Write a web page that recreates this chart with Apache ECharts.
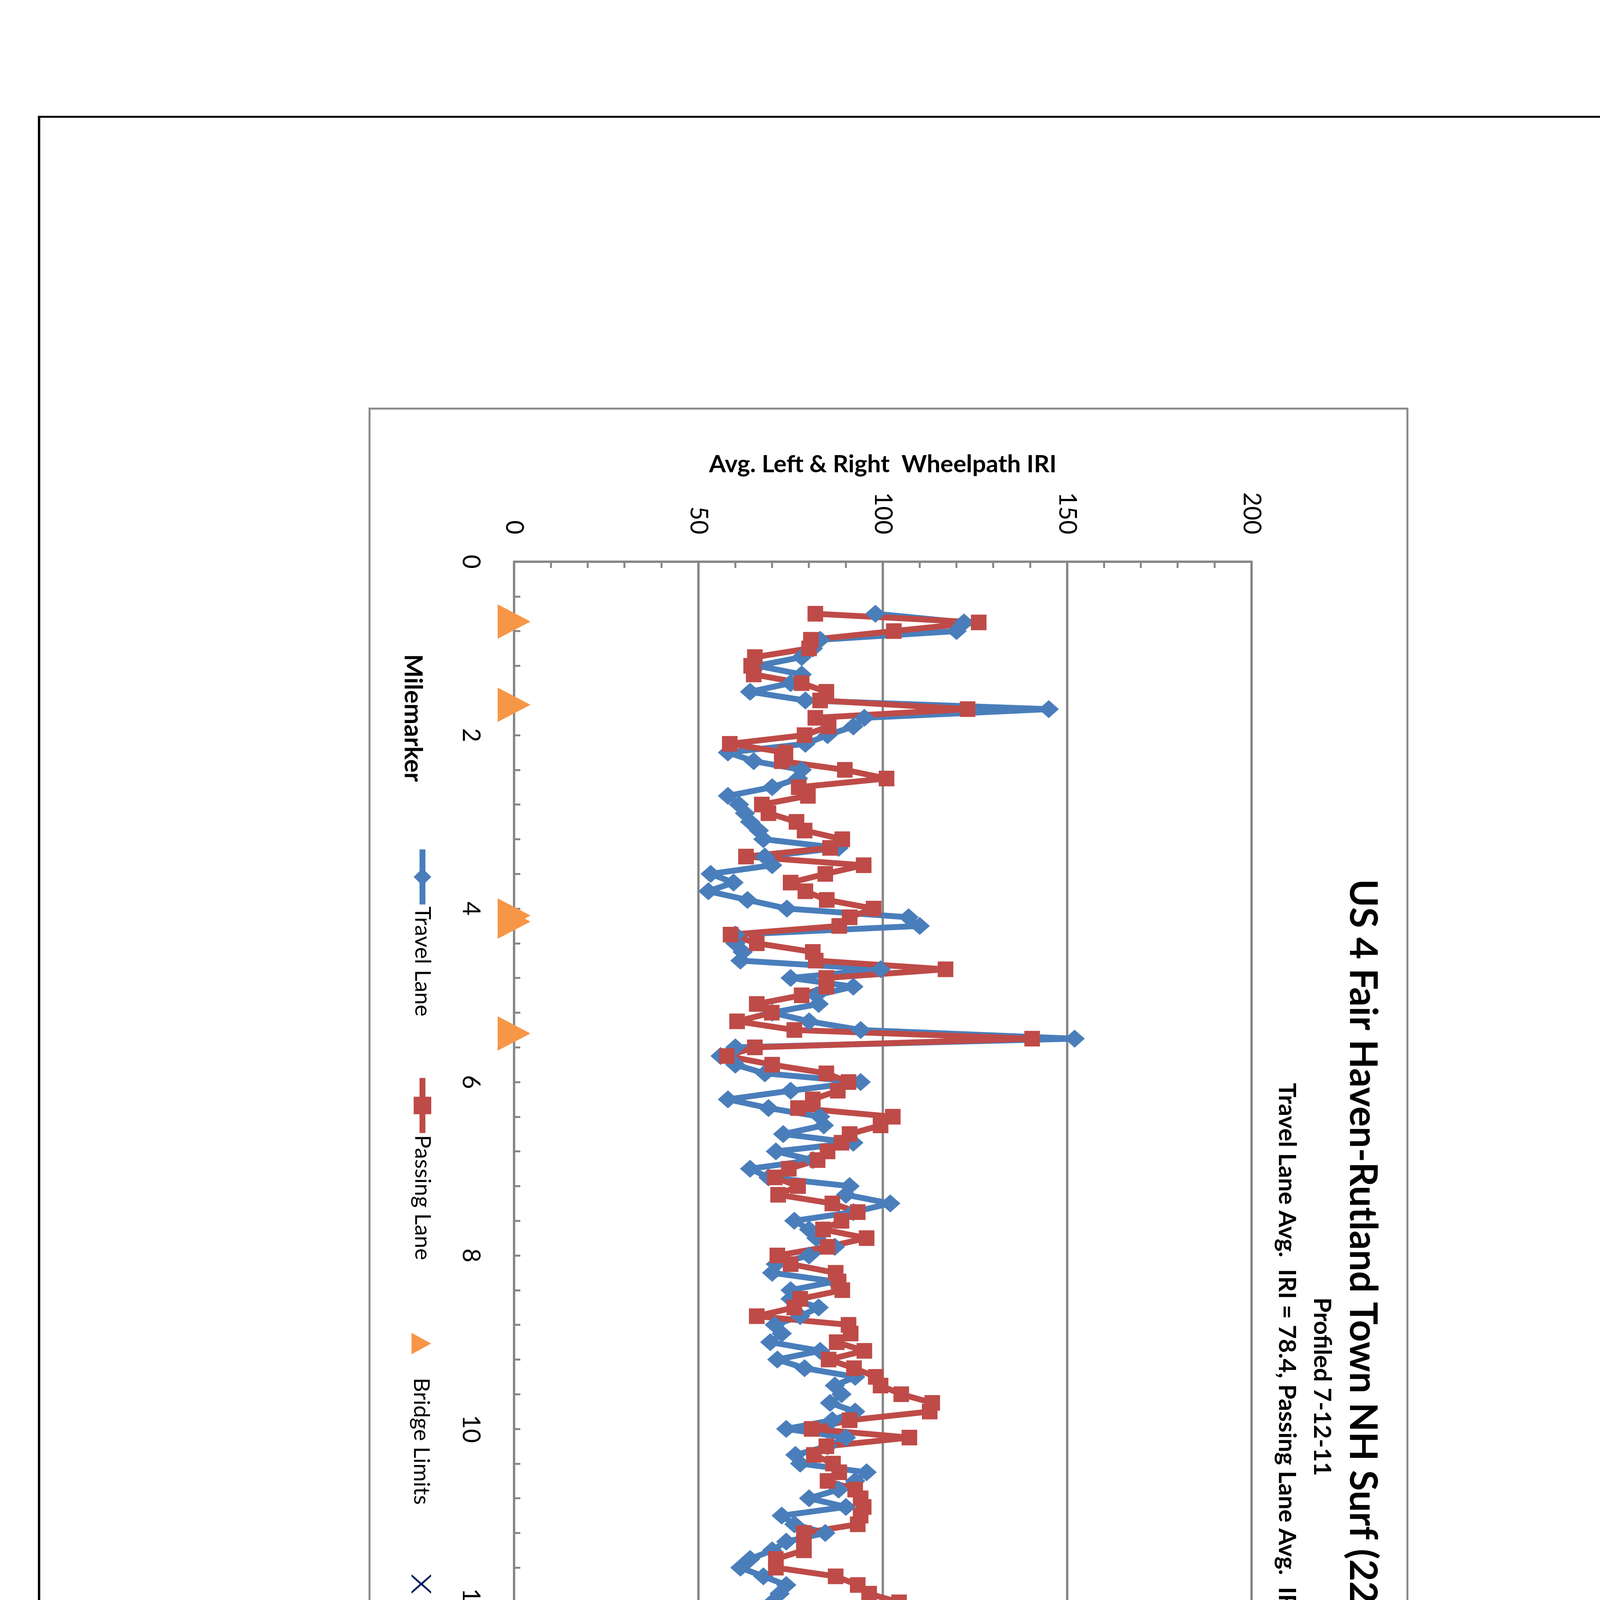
<!DOCTYPE html>
<html>
<head>
<meta charset="utf-8">
<title>US 4 Westbound Ride</title>
<script src="https://cdn.jsdelivr.net/npm/echarts@6/dist/echarts.min.js"></script>
<style>
  html, body { margin: 0; padding: 0; width: 4300px; height: 6700px; overflow: hidden; background: #fff; }
  /* the sheet is landscape, printed turned a quarter turn clockwise */
  #main { position: absolute; left: 0; top: 0; width: 6700px; height: 4300px;
          transform-origin: 0 0; transform: translate(4300px, 0) rotate(90deg); }
</style>
</head>
<body>
<div id="main"></div>
<script>
// milepost of every reading (one per 0.1 mile)
const mileposts = [
  0.6, 0.7, 0.8, 0.9, 1.0, 1.1, 1.2, 1.3, 1.4, 1.5, 1.6, 1.7, 1.8, 1.9, 2.0, 2.1, 2.2, 2.3, 2.4, 2.5, 2.6, 2.7, 2.8,
  2.9, 3.0, 3.1, 3.2, 3.3, 3.4, 3.5, 3.6, 3.7, 3.8, 3.9, 4.0, 4.1, 4.2, 4.3, 4.4, 4.5, 4.6, 4.7, 4.8, 4.9, 5.0, 5.1, 5.2, 5.3, 5.4,
  5.5, 5.6, 5.7, 5.8, 5.9, 6.0, 6.1, 6.2, 6.3, 6.4, 6.5, 6.6, 6.7, 6.8, 6.9, 7.0, 7.1, 7.2, 7.3, 7.4, 7.5, 7.6, 7.7, 7.8, 7.9, 8.0,
  8.1, 8.2, 8.3, 8.4, 8.5, 8.6, 8.7, 8.8, 8.9, 9.0, 9.1, 9.2, 9.3, 9.4, 9.5, 9.6, 9.7, 9.8, 9.9, 10.0, 10.1, 10.2, 10.3, 10.4, 10.5,
  10.6, 10.7, 10.8, 10.9, 11.0, 11.1, 11.2, 11.3, 11.4, 11.5, 11.6, 11.7, 11.8, 11.9, 12.0, 12.1, 12.2, 12.3, 12.4, 12.5, 12.6, 12.7, 12.8, 12.9, 13.0, 13.1, 13.2,
  13.3, 13.4, 13.5, 13.6, 13.7, 13.8, 13.9, 14.0, 14.1, 14.2, 14.3, 14.4, 14.5, 14.6, 14.7, 14.8, 14.9, 15.0, 15.1, 15.2, 15.3, 15.4, 15.5, 15.6, 15.7, 15.8,
  15.9, 16.0, 16.1, 16.2, 16.3, 16.4, 16.5, 16.6, 16.7, 16.8, 16.9, 17.0, 17.1, 17.2, 17.3, 17.4, 17.5, 17.6, 17.7, 17.8, 17.9, 18.0, 18.1, 18.2, 18.3, 18.4, 18.5, 18.6, 18.7, 18.8
];

// avg left & right wheelpath IRI
const travelLane = [
  98, 122, 120, 83, 81, 78, 66, 78, 75, 64, 79, 145, 95, 92, 85, 79, 58, 65, 78, 77, 70, 58, 61,
  62.6, 64, 66.4, 67.6, 88, 68, 70, 53.3, 59.5, 52.7, 63.3, 74, 107, 110, 60, 60, 62, 61.4, 99.4, 75, 92, 82, 82.6, 70, 80, 94,
  152, 60, 56, 60, 68, 94, 75, 58, 69, 83, 84, 73, 92, 71, 81, 64, 69, 91, 90, 102, 92, 76, 80, 82, 87, 80,
  71, 70, 87, 75, 75, 82.6, 77.6, 70.7, 72.6, 69.5, 83, 71.4, 78.8, 92.5, 87, 88.8, 85.7, 92.5, 86.3, 73.8, 90, 85, 76.3, 77.6, 95.6,
  92.5, 88, 80, 90, 72.6, 76, 84.4, 73.8, 70, 64, 61.4, 67.6, 73.8, 72, 70, 78.8, 66.4, 70.7, 71.4, 68.9, 78.8, 99.4, 90, 106, 183.4, 136, 118,
  100, 91, 80.7, 64.5, 68.2, 98.8, 101, 105, 88.8, 110, 91.3, 88.8, 93.2, 172.6, 78.8, 64.5, 107.5, 87, 52.7, 70, 66.4, 59.5, 48.3, 50.2, 46.5, 45,
  46.5, 50, 51.5, 53, 49.6, 45, 43, 42.6, 45.3, 47, 47.8, 49.6, 44.6, 52, 49.6, 58.3, 57, 148.6, 86, 102, 100, 61, 52, 47, 50, 124, 49, 58, 51, 86
];
const passingLane = [
  81.7, 126, 103, 80.5, 80, 65.3, 64.3, 65, 78, 84.7, 83, 123, 81.7, 85.3, 78.8, 58.5, 73.6, 72.6, 89.7, 101, 77.2, 79.7, 67.2,
  69, 76.6, 78.8, 89, 85.7, 62.9, 94.8, 84.4, 75, 79, 84.8, 97.5, 91, 88.2, 58.7, 65.8, 81, 81.8, 117, 84.7, 84.7, 78, 65.8, 69.9, 60.5, 76,
  140.5, 65.3, 57.7, 70, 84.7, 90.7, 87.8, 81, 77, 102.7, 99.4, 91, 88.8, 85, 82.3, 74.5, 70.7, 77, 71.6, 86.3, 93.2, 88.8, 83.8, 95.6, 85, 71.4,
  75, 87.2, 88, 89, 77.6, 76, 65.8, 90.7, 91.3, 87.5, 95, 85.3, 92.2, 98.1, 99.4, 105, 113.4, 112.7, 91, 80.7, 107.2, 84.7, 81.3, 86.5, 88.2,
  85, 92.5, 94, 94.8, 94, 93.2, 78.6, 78.6, 78.6, 71, 71, 87.2, 93.2, 96.3, 104.4, 87.8, 68, 68, 82, 82.5, 81.5, 72.6, 91.5, 112, 169.5, 137.4, 111.5,
  98.8, 119.7, 98.8, 90, 106.8, 117.4, 91, 85.3, 100.6, 112.5, 98.5, 92.5, 85, 139.9, 81, 64.1, 112, 99.4, 68.9, 74.1, 80.7, 65.8, 68, 79.7, 70, 74.5,
  58, 53, 52, 64, 61.4, 62, 65.8, 63.3, 74.8, 67.6, 62.4, 55.2, 60.8, 61.1, 62.9, 64, 66.4, 117, 61, 108.7, 113.7, 66.4, 62, 53.3, 57.7, 144.2, 58.7, 71.4, 54.8, 121.2
];

// event markers, drawn on the zero line
const bridgeMiles = [0.69, 1.65, 4.08, 4.15, 5.44, 12.93, 13.07, 14.59, 14.85, 17.56, 17.84];
const railroadMiles = [18.36];
const laneChangeMiles = [12.87, 13.35];

const chartTitle = 'US 4 Fair Haven-Rutland Town NH Surf (22)Westbound Ride';
const chartSubtitle = 'Profiled 7-12-11\nTravel Lane Avg.  IRI = 78.4, Passing Lane Avg.  IRI = 84.6';

const FONT = 'Lato, "Open Sans", sans-serif';
const CAD = '"DejaVu Sans Condensed", "DejaVu Sans", sans-serif';
const GRID_GREY = '#878787';

const toPoints = (xs, ys) => xs.map((x, i) => [x, ys[i]]);
const onZero = xs => xs.map(x => [x, 0]);

var myChart = echarts.init(document.getElementById('main'), null, { renderer: 'canvas' });

function blockText(x, y, text, size, weight, align) {
  return {
    type: 'text', x: x, y: y, silent: true,
    style: { text: text, fontFamily: CAD, fontSize: size, fontWeight: weight || 'normal',
             fill: '#000', align: align || 'left', verticalAlign: 'middle' }
  };
}
function rule(x1, y1, x2, y2, w) {
  return { type: 'line', silent: true, shape: { x1: x1, y1: y1, x2: x2, y2: y2 },
           style: { stroke: '#000', lineWidth: w || 5 } };
}

const legendBase = {
  padding: 0, selectedMode: false,
  lineStyle: { width: 15 },
  textStyle: { fontFamily: FONT, fontSize: 57, color: '#000' }
};
const markerLegendText = { fontFamily: FONT, fontSize: 57, color: '#000', padding: [0, 0, 0, 55] };

myChart.setOption({
  animation: false,
  backgroundColor: '#fff',
  title: {
    text: chartTitle,
    subtext: chartSubtitle,
    left: 3550, top: 758, textAlign: 'center', padding: 0, itemGap: 3,
    textStyle: { fontFamily: FONT, fontWeight: 'bold', fontSize: 97, lineHeight: 110, color: '#000' },
    subtextStyle: { fontFamily: FONT, fontWeight: 'bold', fontSize: 62, lineHeight: 90, color: '#000' }
  },
  legend: [
    Object.assign({}, legendBase, { data: ['Travel Lane'], left: 2167, top: 3190, itemWidth: 141, itemHeight: 56 }),
    Object.assign({}, legendBase, { data: ['Passing Lane'], left: 2752, top: 3190, itemWidth: 141, itemHeight: 56 }),
    Object.assign({}, legendBase, { data: ['Bridge Limits'], left: 3412, top: 3193, itemWidth: 55, itemHeight: 50, textStyle: markerLegendText }),
    Object.assign({}, legendBase, { data: ['Railroad crossing'], left: 4030, top: 3193, itemWidth: 55, itemHeight: 50, textStyle: markerLegendText }),
    Object.assign({}, legendBase, { data: ['Lane Change Travel Lane'], left: 4771, top: 3193, itemWidth: 55, itemHeight: 50, textStyle: markerLegendText })
  ],
  grid: { left: 1438, top: 1096, width: 4440, height: 1888, containLabel: false },
  xAxis: {
    type: 'value', min: 0, max: 20, interval: 2,
    axisLine: { show: true, lineStyle: { color: GRID_GREY, width: 6 } },
    axisTick: { show: true, inside: true, length: 16, lineStyle: { color: GRID_GREY, width: 5 } },
    minorTick: { show: true, splitNumber: 5, length: 16, lineStyle: { color: GRID_GREY, width: 5 } },
    axisLabel: { margin: 80, fontFamily: FONT, fontSize: 62, color: '#000' },
    splitLine: { show: false }
  },
  yAxis: {
    type: 'value', min: 0, max: 200, interval: 50,
    name: 'Avg. Left & Right  Wheelpath IRI',
    nameLocation: 'middle', nameRotate: 90, nameGap: 218,
    nameTextStyle: { fontFamily: FONT, fontWeight: 'bold', fontSize: 62, color: '#000' },
    axisLine: { show: true, lineStyle: { color: GRID_GREY, width: 6 } },
    axisTick: { show: true, inside: true, length: 16, lineStyle: { color: GRID_GREY, width: 5 } },
    minorTick: { show: true, splitNumber: 5, length: 16, lineStyle: { color: GRID_GREY, width: 5 } },
    axisLabel: { margin: 70, fontFamily: FONT, fontSize: 62, color: '#000' },
    splitLine: { show: true, lineStyle: { color: GRID_GREY, width: 6 } }
  },
  series: [
    {
      name: 'Travel Lane', type: 'line',
      data: toPoints(mileposts, travelLane),
      symbol: 'diamond', symbolSize: [46, 52],
      lineStyle: { color: '#4A7EBB', width: 15 },
      itemStyle: { color: '#4A7EBB' }
    },
    {
      name: 'Passing Lane', type: 'line',
      data: toPoints(mileposts, passingLane),
      symbol: 'rect', symbolSize: 40,
      lineStyle: { color: '#BE4B48', width: 15 },
      itemStyle: { color: '#BE4B48' }
    },
    {
      name: 'Bridge Limits', type: 'scatter', clip: false,
      data: onZero(bridgeMiles),
      symbol: 'triangle', symbolSize: [88, 84],
      itemStyle: { color: '#F79646', opacity: 1 }
    },
    {
      name: 'Railroad crossing', type: 'scatter', clip: false,
      data: onZero(railroadMiles),
      symbol: 'path://M0,0 L12,0 L50,42 L88,0 L100,0 L56,50 L100,100 L88,100 L50,58 L12,100 L0,100 L44,50 Z',
      symbolSize: [81, 83],
      itemStyle: { color: '#002060', opacity: 1 }
    },
    {
      name: 'Lane Change Travel Lane', type: 'scatter', clip: false,
      data: onZero(laneChangeMiles),
      symbol: 'diamond', symbolSize: [68, 83],
      itemStyle: { color: '#00B050', opacity: 1 }
    }
  ],
  graphic: [
    // chart area border
    { type: 'rect', silent: true, z: -10, shape: { x: 1046, y: 697, width: 4999, height: 2657 },
      style: { fill: 'none', stroke: '#898989', lineWidth: 5 } },
    { type: 'text', silent: true, x: 1838, y: 3243,
      style: { text: 'Milemarker', fontFamily: FONT, fontWeight: 'bold', fontSize: 64, fill: '#000',
               align: 'center', verticalAlign: 'middle' } },
    // sheet frame
    rule(299, 0, 299, 4203, 5),
    rule(299, 4200, 6700, 4200, 6),
    // title block
    rule(4738, 3800, 4738, 4200),
    rule(4738, 3800, 6700, 3800),
    rule(5236, 3800, 5236, 4200),
    rule(5236, 3973, 6692, 3973),
    rule(6692, 3800, 6692, 4200),
    blockText(4981, 3853, 'WESTBOUND', 54, 'bold', 'center'),
    blockText(4981, 3922, 'ROUGHNESS', 54, 'bold', 'center'),
    blockText(4981, 3990, 'DATA', 54, 'bold', 'center'),
    blockText(4981, 4058, 'INFORMATION', 54, 'bold', 'center'),
    blockText(4981, 4127, 'SHEET', 54, 'bold', 'center'),
    blockText(5274, 3842, 'PROJECT NAME:', 33),
    blockText(5644, 3843, 'FAIR HAVEN-RUTLAND TOWN', 52),
    blockText(5274, 3930, 'PROJECT NUMBER:', 33),
    blockText(5644, 3931, 'NH SURF(22)', 52),
    blockText(5274, 4014, 'FILE NAME: IOBIO6/IOBIO6.DGN', 33),
    blockText(6122, 4014, 'PLOT DATE: 31-MAY-2013 11:55', 33),
    blockText(5274, 4063, 'PROJECT LEADER: M.FOWLER', 33),
    blockText(6122, 4063, 'DRAWN BY:  PVT.MGT.', 33),
    blockText(5274, 4114, 'DESIGNED BY:', 33),
    blockText(5618, 4114, 'PVT.MGT.', 33),
    blockText(6122, 4114, 'CHECKED BY:PVT.MGT.', 33),
    blockText(5274, 4166, 'IOBIO6*18.I', 33),
    blockText(6122, 4166, 'SHEET  18   OF  24', 33)
  ]
});
</script>
</body>
</html>
